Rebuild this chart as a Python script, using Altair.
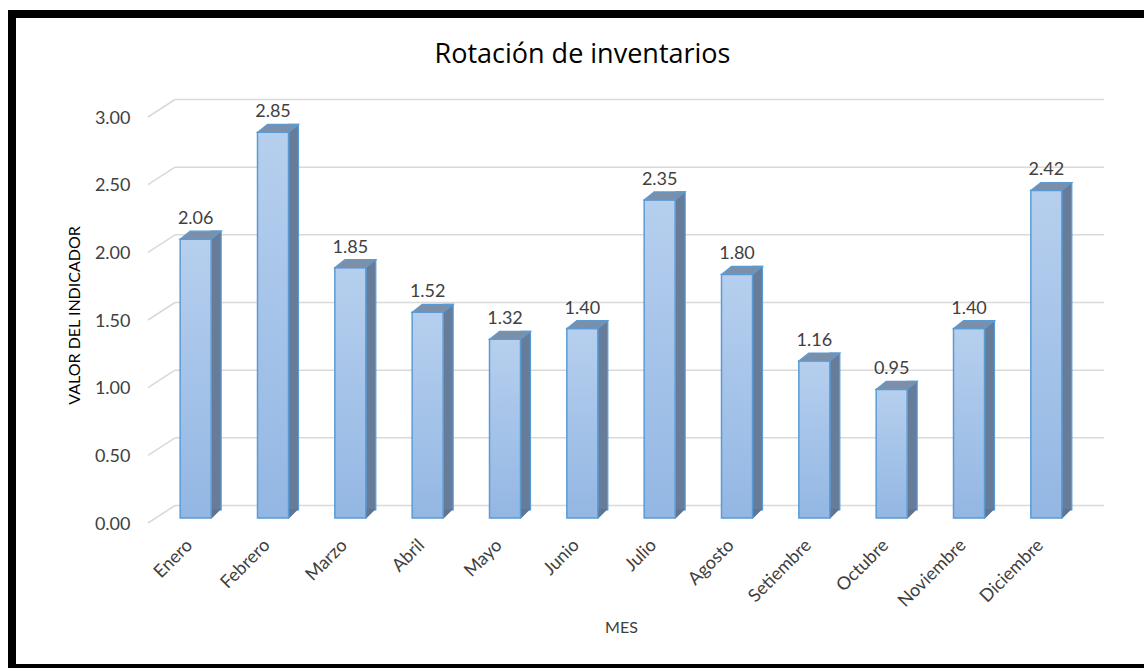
import altair as alt
import pandas as pd

meses = ["Enero", "Febrero", "Marzo", "Abril", "Mayo", "Junio", "Julio",
         "Agosto", "Setiembre", "Octubre", "Noviembre", "Diciembre"]
valores = [2.06, 2.85, 1.85, 1.52, 1.32, 1.40, 2.35, 1.80, 1.16, 0.95, 1.40, 2.42]
ticks = [0.0, 0.5, 1.0, 1.5, 2.0, 2.5, 3.0]
titulo = ["Rotación de inventarios"]

df = pd.DataFrame({"Mes": meses, "Valor": valores})
dt = pd.DataFrame({"v": ticks})
dtitle = pd.DataFrame({"t": titulo})

W, H = 928, 406
PL, PT = 157, 112
FONT = "Lato"

xenc = alt.X("Mes:N", sort=meses, scale=alt.Scale(paddingInner=0, paddingOuter=0),
             axis=alt.Axis(title="MES", labelAngle=-45, labelFontSize=18, labelColor="#404040",
                           labelFont=FONT, labelPadding=18, labelOffset=-12, domain=False, ticks=False,
                           titleFont=FONT, titleFontSize=16, titleFontWeight="normal",
                           titleColor="#404040", titlePadding=9))
yscale = alt.Scale(domain=[0, 3], nice=False, zero=True)
yenc = alt.Y("Valor:Q", scale=yscale,
             axis=alt.Axis(title="VALOR DEL INDICADOR", values=ticks, format=".2f",
                           labelFontSize=18, labelColor="#404040", labelFont=FONT,
                           labelPadding=27, labelOffset=6, domain=False, ticks=False, grid=False,
                           titleFont=FONT, titleFontSize=16, titleFontWeight="normal",
                           titleColor="#000000", titlePadding=12))

grid_color = "#d9d9d9"
back_grid = alt.Chart(dt).mark_rule(color=grid_color, strokeWidth=1.5, yOffset=-12.5).encode(
    y=alt.Y("v:Q", scale=yscale), x=alt.value(18), x2=alt.value(947))
stubs = alt.Chart(dt).mark_rule(color=grid_color, strokeWidth=1.5, yOffset=5, y2Offset=-12.5).encode(
    y=alt.Y("v:Q", scale=yscale), y2="v:Q", x=alt.value(-9), x2=alt.value(18))

blue = "#5b9bd5"
side = alt.Chart(df).mark_bar(width=10, xOffset=20.5, yOffset=-8, y2Offset=-8,
                              color="#667c98", stroke=blue, strokeWidth=1.2).encode(
    x=xenc, y=yenc, y2=alt.datum(0))
side_bottom = alt.Chart(df).mark_point(shape="M -1 1 L -1 -1 L 1 -1 Z", size=100, filled=True,
                                       opacity=1, color="#5f7591", xOffset=20.5, yOffset=-4).encode(
    x=xenc, y=alt.datum(0, scale=yscale))
front = alt.Chart(df).mark_bar(
    width=31, stroke=blue, strokeWidth=1.5,
    color=alt.Gradient(gradient="linear", x1=0, x2=0, y1=0, y2=1,
                       stops=[alt.GradientStop(color="#b6cfee", offset=0),
                              alt.GradientStop(color="#93b7e3", offset=1)])).encode(
    x=xenc, y=yenc, y2=alt.datum(0))
top = alt.Chart(df).mark_point(shape="M -1 0.195 L 0.512 0.195 L 1 -0.195 L -0.512 -0.195 Z",
                               size=1681, filled=True, opacity=1, color="#7b8fa9",
                               stroke=blue, strokeWidth=1.2, xOffset=5, yOffset=-4).encode(
    x=xenc, y=yenc)
labels = alt.Chart(df).mark_text(dy=-20, baseline="middle", font=FONT, fontSize=18,
                                 color="#404040").encode(
    x=xenc, y=yenc, text=alt.Text("Valor:Q", format=".2f"))
title = alt.Chart(dtitle).mark_text(font="Open Sans", fontSize=27, color="#000000",
                                    baseline="alphabetic", align="center").encode(
    x=alt.value(582.5 - PL), y=alt.value(63 - PT), text="t:N")
frame = alt.Chart(dtitle).mark_rect(fill=None, stroke="#000000", strokeWidth=8).encode(
    x=alt.value(12 - PL), x2=alt.value(1250 - PL), y=alt.value(14 - PT), y2=alt.value(668 - PT))

chart = alt.layer(back_grid, stubs, side, side_bottom, front, top, labels, title, frame).properties(
    width=W, height=H,
    autosize=alt.AutoSizeParams(type="none"),
    padding={"left": PL, "top": PT, "right": 1144 - PL - W, "bottom": 668 - PT - H},
    background="#ffffff",
).configure_view(stroke=None)

chart.save("out.html", embed_options={"renderer": "svg", "actions": False})
